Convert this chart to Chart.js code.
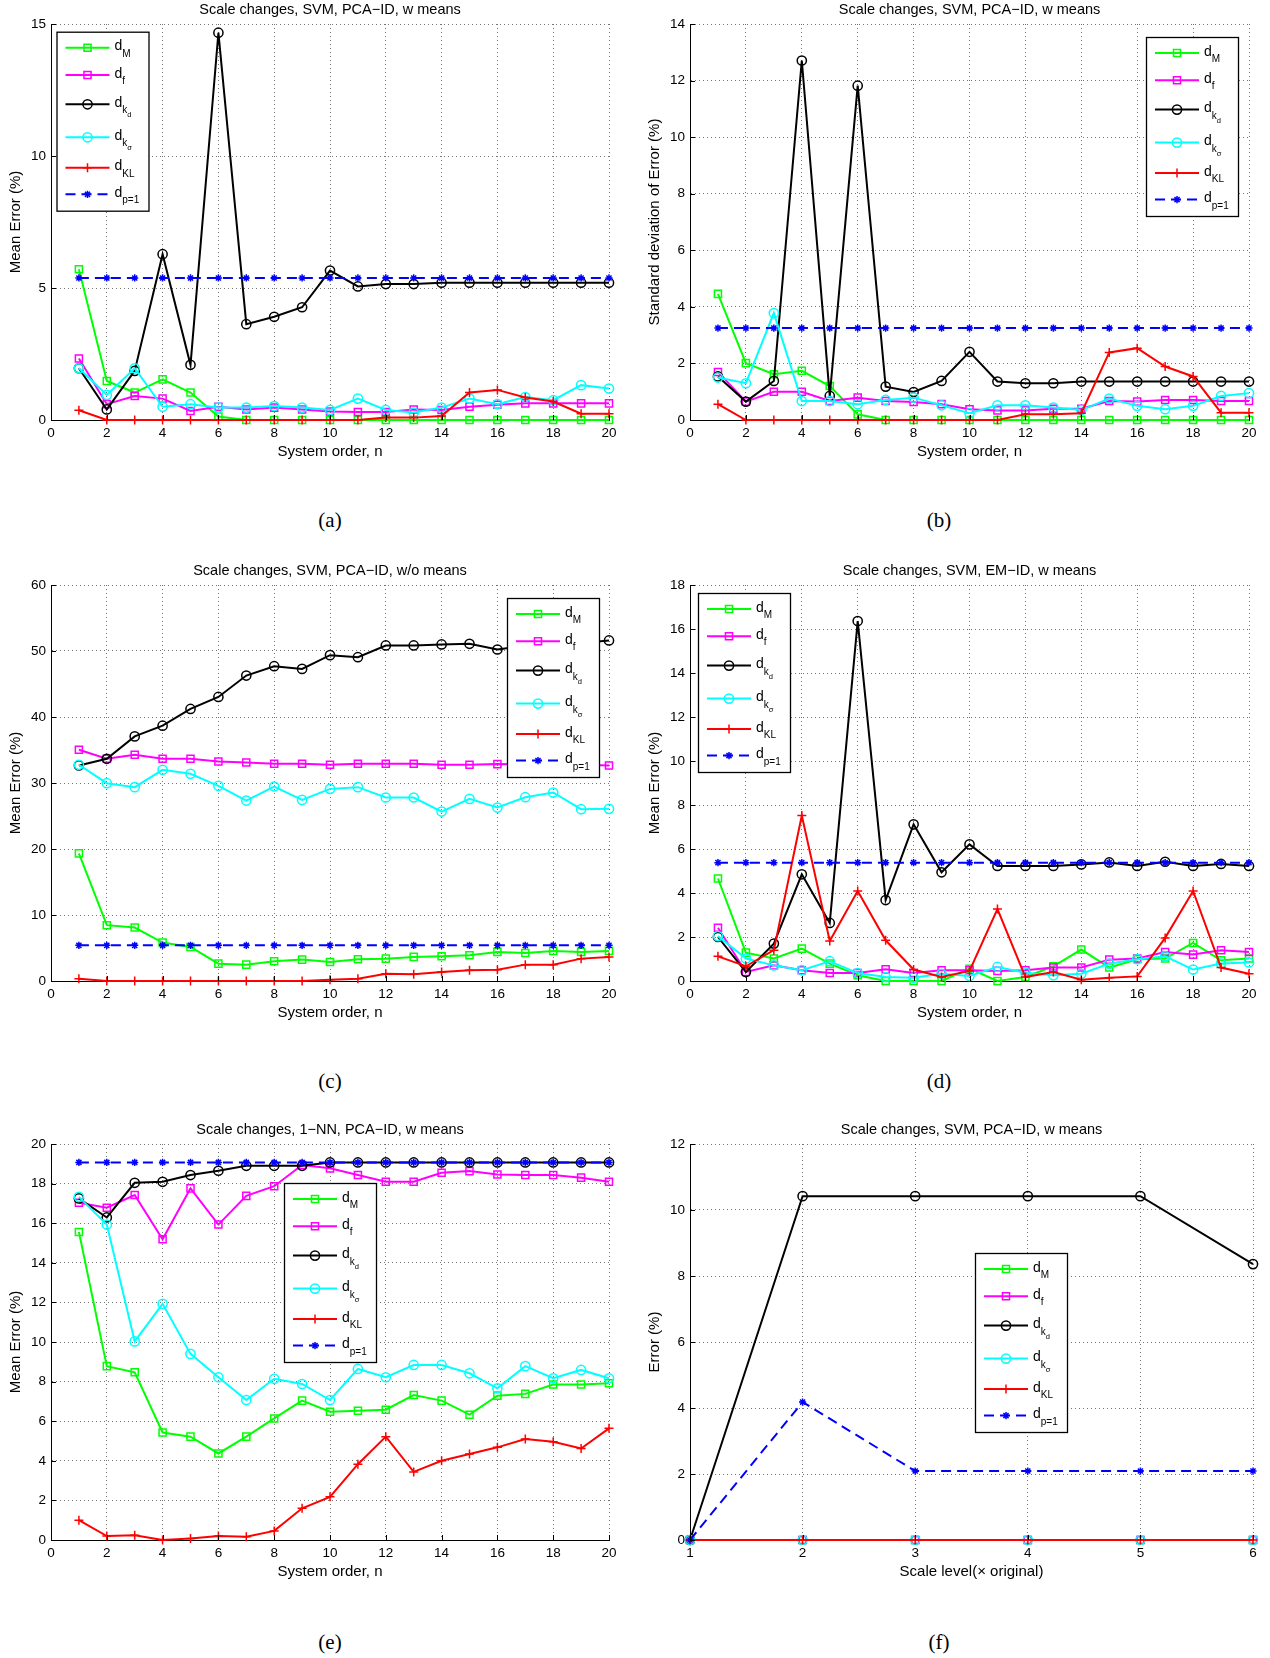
<!DOCTYPE html>
<html><head><meta charset="utf-8">
<script src="https://cdn.jsdelivr.net/npm/chart.js@4.4.1/dist/chart.umd.min.js"></script>
<style>
html,body{margin:0;padding:0;background:#fff;}
body{width:1270px;height:1658px;position:relative;overflow:hidden;}
canvas{position:absolute;}
.cap{position:absolute;font-family:"Liberation Serif","Times New Roman",serif;font-size:21px;color:#000;transform:translate(-50%,-50%);white-space:nowrap;}
</style></head><body>
<div class="cap" style="left:330px;top:520px">(a)</div>
<div class="cap" style="left:939px;top:520px">(b)</div>
<div class="cap" style="left:330px;top:1081px">(c)</div>
<div class="cap" style="left:939px;top:1081px">(d)</div>
<div class="cap" style="left:330px;top:1642px">(e)</div>
<div class="cap" style="left:939px;top:1642px">(f)</div>
<script>
// ---------- data ----------
const systemOrder = [1,2,3,4,5,6,7,8,9,10,11,12,13,14,15,16,17,18,19,20];
const scaleLevel = [1,2,3,4,5,6];
const seriesLabels = ['d_M','d_f','d_{k_d}','d_{k_σ}','d_{KL}','d_{p=1}'];

// (a) Mean error, SVM, PCA-ID, w means
const aM  = [5.71,1.48,1.04,1.54,1.04,0.13,0,0,0,0,0,0,0,0,0,0,0,0,0,0];
const aF  = [2.33,0.60,0.91,0.81,0.34,0.50,0.40,0.47,0.40,0.32,0.30,0.30,0.40,0.38,0.50,0.58,0.63,0.63,0.63,0.63];
const aKd = [1.96,0.40,1.86,6.28,2.09,14.67,3.63,3.91,4.27,5.66,5.06,5.15,5.15,5.20,5.20,5.20,5.20,5.20,5.20,5.20];
const aKs = [1.96,0.95,1.96,0.50,0.60,0.47,0.47,0.53,0.47,0.38,0.81,0.38,0.28,0.47,0.81,0.60,0.87,0.75,1.32,1.19];
const aKL = [0.37,0,0,0,0,0,0,0,0,0,0,0.09,0.09,0.15,1.04,1.14,0.85,0.70,0.24,0.24];
const aP1 = [5.38,5.38,5.38,5.38,5.38,5.38,5.38,5.38,5.38,5.38,5.38,5.38,5.38,5.38,5.38,5.38,5.38,5.38,5.38,5.38];

// (b) Std deviation, SVM, PCA-ID, w means
const bM  = [4.46,2.01,1.62,1.74,1.20,0.20,0,0,0,0,0,0,0,0,0,0,0,0,0,0];
const bF  = [1.70,0.65,1.00,1.00,0.67,0.79,0.67,0.64,0.56,0.38,0.34,0.34,0.40,0.40,0.67,0.65,0.71,0.71,0.67,0.67];
const bKd = [1.54,0.65,1.38,12.71,0.85,11.82,1.18,0.99,1.38,2.41,1.36,1.30,1.30,1.36,1.36,1.36,1.36,1.36,1.36,1.36];
const bKs = [1.50,1.30,3.78,0.67,0.67,0.56,0.71,0.79,0.52,0.24,0.52,0.52,0.44,0.35,0.76,0.50,0.38,0.50,0.85,0.95];
const bKL = [0.56,0,0,0,0,0,0,0,0,0,0,0.20,0.20,0.24,2.39,2.54,1.89,1.54,0.26,0.26];
const bP1 = [3.25,3.25,3.25,3.25,3.25,3.25,3.25,3.25,3.25,3.25,3.25,3.25,3.25,3.25,3.25,3.25,3.25,3.25,3.25,3.25];

// (c) Mean error, SVM, PCA-ID, w/o means
const cM  = [19.34,8.46,8.10,5.82,5.16,2.63,2.48,2.99,3.24,2.89,3.29,3.39,3.65,3.75,3.90,4.41,4.25,4.56,4.41,4.56];
const cF  = [35.04,33.67,34.28,33.67,33.67,33.27,33.11,32.91,32.91,32.76,32.91,32.91,32.91,32.76,32.76,32.86,32.80,32.80,32.75,32.66];
const cKd = [32.66,33.67,37.06,38.68,41.22,43.04,46.28,47.70,47.29,49.37,49.06,50.84,50.84,50.99,51.09,50.23,50.80,51.00,51.20,51.60];
const cKs = [32.76,29.97,29.37,32.00,31.39,29.57,27.34,29.47,27.44,29.11,29.37,27.80,27.80,25.67,27.59,26.28,27.85,28.56,26.03,26.08];
const cKL = [0.35,0,0,0,0,0,0,0,0,0.20,0.35,1.11,1.01,1.37,1.62,1.72,2.48,2.48,3.39,3.65];
const cP1 = [5.40,5.40,5.40,5.40,5.40,5.40,5.40,5.40,5.40,5.40,5.40,5.40,5.40,5.40,5.40,5.40,5.40,5.40,5.40,5.40];

// (d) Mean error, SVM, EM-ID, w means
const dM  = [4.66,1.29,1.02,1.47,0.79,0.26,0,0,0,0.56,0,0.18,0.67,1.43,0.61,0.99,1.02,1.73,0.94,1.02];
const dF  = [2.42,0.41,0.71,0.49,0.36,0.36,0.53,0.36,0.49,0.49,0.46,0.49,0.61,0.61,0.97,1.02,1.32,1.20,1.40,1.32];
const dKd = [2.00,0.41,1.70,4.85,2.64,16.36,3.68,7.12,4.94,6.21,5.23,5.23,5.23,5.30,5.39,5.23,5.42,5.23,5.32,5.23];
const dKs = [2.04,1.02,0.71,0.49,0.90,0.36,0.18,0.15,0.33,0.23,0.64,0.38,0.26,0.33,0.79,0.99,1.12,0.52,0.79,0.84];
const dKL = [1.12,0.67,1.40,7.52,1.82,4.09,1.85,0.52,0.18,0.46,3.27,0.18,0.41,0.06,0.15,0.21,1.96,4.09,0.61,0.33];
const dP1 = [5.38,5.38,5.38,5.38,5.38,5.38,5.38,5.38,5.38,5.38,5.38,5.38,5.38,5.38,5.38,5.38,5.38,5.38,5.38,5.38];

// (e) Mean error, 1-NN, PCA-ID, w means
const eM  = [15.56,8.78,8.47,5.43,5.22,4.37,5.22,6.14,7.04,6.48,6.53,6.58,7.32,7.04,6.33,7.29,7.38,7.85,7.85,7.92];
const eF  = [17.03,16.78,17.42,15.19,17.76,15.93,17.38,17.87,18.94,18.77,18.43,18.09,18.09,18.55,18.63,18.46,18.43,18.43,18.30,18.09];
const eKd = [17.25,16.29,18.04,18.09,18.43,18.65,18.90,18.90,18.90,19.07,19.07,19.07,19.07,19.07,19.07,19.07,19.07,19.07,19.07,19.07];
const eKs = [17.33,15.93,10.03,11.93,9.40,8.22,7.07,8.14,7.88,7.07,8.64,8.22,8.84,8.84,8.42,7.66,8.78,8.17,8.59,8.17];
const eKL = [1.00,0.20,0.24,0,0.08,0.20,0.17,0.46,1.60,2.18,3.83,5.22,3.44,4.00,4.34,4.68,5.10,4.96,4.62,5.64];
const eP1 = [19.07,19.07,19.07,19.07,19.07,19.07,19.07,19.07,19.07,19.07,19.07,19.07,19.07,19.07,19.07,19.07,19.07,19.07,19.07,19.07];

// (f) Error vs scale level
const fM  = [0,0,0,0,0,0];
const fF  = [0,0,0,0,0,0];
const fKd = [0,10.42,10.42,10.42,10.42,8.36];
const fKs = [0,0,0,0,0,0];
const fKL = [0,0,0,0,0,0];
const fP1 = [0,4.18,2.09,2.09,2.09,2.09];

// ---------- styles ----------
const FONT = "'Liberation Sans', Arial, Helvetica, sans-serif";
const seriesStyles = [
  {color:'#00ff00', pointStyle:'rect',   radius:5,   dash:[]},
  {color:'#ff00ff', pointStyle:'rect',   radius:5,   dash:[]},
  {color:'#000000', pointStyle:'circle', radius:4.6, dash:[]},
  {color:'#00ffff', pointStyle:'circle', radius:4.6, dash:[]},
  {color:'#ff0000', pointStyle:'cross',  radius:4.5, dash:[]},
  {color:'#0000ff', pointStyle:'star',   radius:3.6, dash:[10,6]}
];
const legendRowOffsets = [16, 43.3, 72.6, 105.6, 136, 162.6];

function parseTex(s){
  const out=[]; let i=0;
  function rec(level){
    while(i<s.length){
      const c=s[i];
      if(c==='}'){i++;return;}
      if(c==='_'){
        i++;
        if(s[i]==='{'){i++;rec(level+1);} else {out.push([s[i],level+1]);i++;}
      } else {out.push([c,level]);i++;}
    }
  }
  rec(0); return out;
}

function drawMarker(ctx, st, x, y){
  const r = st.radius;
  ctx.beginPath();
  if(st.pointStyle==='rect'){
    const h = r*Math.SQRT1_2;
    ctx.rect(x-h,y-h,2*h,2*h);
  } else if(st.pointStyle==='circle'){
    ctx.arc(x,y,r,0,Math.PI*2);
  } else if(st.pointStyle==='cross'){
    ctx.moveTo(x-r,y);ctx.lineTo(x+r,y);ctx.moveTo(x,y-r);ctx.lineTo(x,y+r);
  } else if(st.pointStyle==='star'){
    for(let k=0;k<4;k++){
      const a=k*Math.PI/4;
      ctx.moveTo(x-r*Math.cos(a),y-r*Math.sin(a));ctx.lineTo(x+r*Math.cos(a),y+r*Math.sin(a));
    }
  }
  ctx.stroke();
}

const decorPlugin = {
  id:'matlabDecor',
  afterDraw(chart, args, opts){
    const ctx = chart.ctx;
    const ca = chart.chartArea;
    // inward ticks on left & bottom axes
    ctx.save();
    ctx.strokeStyle='#000'; ctx.lineWidth=1;
    const xs = chart.scales.x, ys = chart.scales.y;
    ctx.beginPath();
    xs.ticks.forEach(t=>{ const px=Math.round(xs.getPixelForValue(t.value))+0.5; ctx.moveTo(px,Math.round(ca.bottom)); ctx.lineTo(px,Math.round(ca.bottom)-5); });
    ys.ticks.forEach(t=>{ const py=Math.round(ys.getPixelForValue(t.value))+0.5; ctx.moveTo(Math.round(ca.left),py); ctx.lineTo(Math.round(ca.left)+5,py); });
    ctx.stroke();
    ctx.restore();
    // legend box
    if(!opts || opts.x===undefined) return;
    const bx = opts.x, by = opts.y, bw = 92, bh = 179;
    ctx.save();
    ctx.fillStyle='#fff'; ctx.fillRect(bx,by,bw,bh);
    ctx.strokeStyle='#000'; ctx.lineWidth=1.3; ctx.strokeRect(bx+0.5,by+0.5,bw,bh);
    const sizes=[14,10,7.5], offs=[2.5,9,13];
    chart.data.datasets.forEach((ds,i)=>{
      const st = seriesStyles[i];
      const y = by + legendRowOffsets[i];
      ctx.save();
      ctx.strokeStyle=st.color; ctx.lineWidth=2; ctx.setLineDash(st.dash);
      ctx.beginPath(); ctx.moveTo(bx+9,y); ctx.lineTo(bx+53,y); ctx.stroke();
      ctx.setLineDash([]); ctx.lineWidth=1.5;
      drawMarker(ctx, st, bx+31, y);
      ctx.restore();
      let tx = bx+58;
      ctx.fillStyle='#000'; ctx.textAlign='left'; ctx.textBaseline='alphabetic';
      parseTex(ds.label).forEach(([ch,lv])=>{
        ctx.font = sizes[lv]+'px '+FONT;
        ctx.fillText(ch, tx, y+offs[lv]);
        tx += ctx.measureText(ch).width;
      });
    });
    ctx.restore();
  }
};

function buildPanel(p){
  const PADR = 16;
  const W = (p.R - p.L) + 51 + PADR;
  const H = (p.B - p.T) + 24 + 46;
  const cv = document.createElement('canvas');
  cv.width=W; cv.height=H;
  cv.style.left=(p.L-51)+'px'; cv.style.top=(p.T-24)+'px';
  cv.style.width=W+'px'; cv.style.height=H+'px';
  document.body.appendChild(cv);
  const datasets = p.series.map((vals,i)=>({
    label: seriesLabels[i],
    data: vals.map((v,j)=>({x:p.xs[j], y:v})),
    borderColor: seriesStyles[i].color,
    borderWidth: 2,
    borderDash: seriesStyles[i].dash,
    pointStyle: seriesStyles[i].pointStyle,
    pointRadius: seriesStyles[i].radius,
    pointBorderWidth: 1.5,
    pointBorderColor: seriesStyles[i].color,
    pointBackgroundColor: 'rgba(0,0,0,0)',
    fill:false, tension:0, clip:false, order: 6-i
  }));
  const tickFont = {family:FONT, size:13.5};
  const labFont = {family:FONT, size:15};
  new Chart(cv, {
    type:'line',
    data:{datasets},
    plugins:[decorPlugin],
    options:{
      responsive:false, animation:false, devicePixelRatio:1,
      layout:{padding:{left:0,right:PADR,top:0,bottom:0}, autoPadding:false},
      plugins:{
        legend:{display:false}, tooltip:{enabled:false},
        title:{display:true, text:p.title, fullSize:false, color:'#000',
               font:{family:FONT, size:14.5, weight:'normal'}, padding:{top:1.3,bottom:5.3}},
        matlabDecor:{x:p.legX-(p.L-51), y:p.legY-(p.T-24)}
      },
      scales:{
        x:{type:'linear', min:p.xmin, max:p.xmax,
           ticks:{stepSize:p.xstep, color:'#000', font:tickFont, padding:4.9, maxRotation:0, autoSkip:false},
           grid:{color:'rgba(0,0,0,0.55)', lineWidth:1, drawTicks:false},
           border:{display:true, color:'#000', width:1, dash:[1,3]},
           title:{display:true, text:p.xlabel, color:'#000', font:labFont, padding:{top:0,bottom:5}},
           afterFit(s){ s.height=46; }},
        y:{type:'linear', min:0, max:p.ymax,
           ticks:{stepSize:p.ystep, color:'#000', font:tickFont, padding:5, autoSkip:false},
           grid:{color:'rgba(0,0,0,0.55)', lineWidth:1, drawTicks:false},
           border:{display:true, color:'#000', width:1, dash:[1,3]},
           title:{display:true, text:p.ylabel, color:'#000', font:labFont, padding:{top:6.5,bottom:0}},
           afterFit(s){ s.width=51; }}
      }
    }
  });
}

const SO = 'System order, n';
buildPanel({L:51,R:609,T:24,B:420, xs:systemOrder, xmin:0,xmax:20,xstep:2, ymax:15,ystep:5,
  title:'Scale changes, SVM, PCA\u2212ID, w means', xlabel:SO, ylabel:'Mean Error (%)',
  series:[aM,aF,aKd,aKs,aKL,aP1], legX:56.5, legY:31.7});
buildPanel({L:690,R:1249,T:24,B:420, xs:systemOrder, xmin:0,xmax:20,xstep:2, ymax:14,ystep:2,
  title:'Scale changes, SVM, PCA\u2212ID, w means', xlabel:SO, ylabel:'Standard deviation of Error (%)',
  series:[bM,bF,bKd,bKs,bKL,bP1], legX:1146, legY:37});
buildPanel({L:51,R:609,T:585,B:981, xs:systemOrder, xmin:0,xmax:20,xstep:2, ymax:60,ystep:10,
  title:'Scale changes, SVM, PCA\u2212ID, w/o means', xlabel:SO, ylabel:'Mean Error (%)',
  series:[cM,cF,cKd,cKs,cKL,cP1], legX:507, legY:598});
buildPanel({L:690,R:1249,T:585,B:981, xs:systemOrder, xmin:0,xmax:20,xstep:2, ymax:18,ystep:2,
  title:'Scale changes, SVM, EM\u2212ID, w means', xlabel:SO, ylabel:'Mean Error (%)',
  series:[dM,dF,dKd,dKs,dKL,dP1], legX:698, legY:593});
buildPanel({L:51,R:609,T:1144,B:1540, xs:systemOrder, xmin:0,xmax:20,xstep:2, ymax:20,ystep:2,
  title:'Scale changes, 1\u2212NN, PCA\u2212ID, w means', xlabel:SO, ylabel:'Mean Error (%)',
  series:[eM,eF,eKd,eKs,eKL,eP1], legX:284, legY:1183});
buildPanel({L:690,R:1253,T:1144,B:1540, xs:scaleLevel, xmin:1,xmax:6,xstep:1, ymax:12,ystep:2,
  title:'Scale changes, SVM, PCA\u2212ID, w means', xlabel:'Scale level(\u00d7 original)', ylabel:'Error (%)',
  series:[fM,fF,fKd,fKs,fKL,fP1], legX:975, legY:1253});
</script>
</body></html>
